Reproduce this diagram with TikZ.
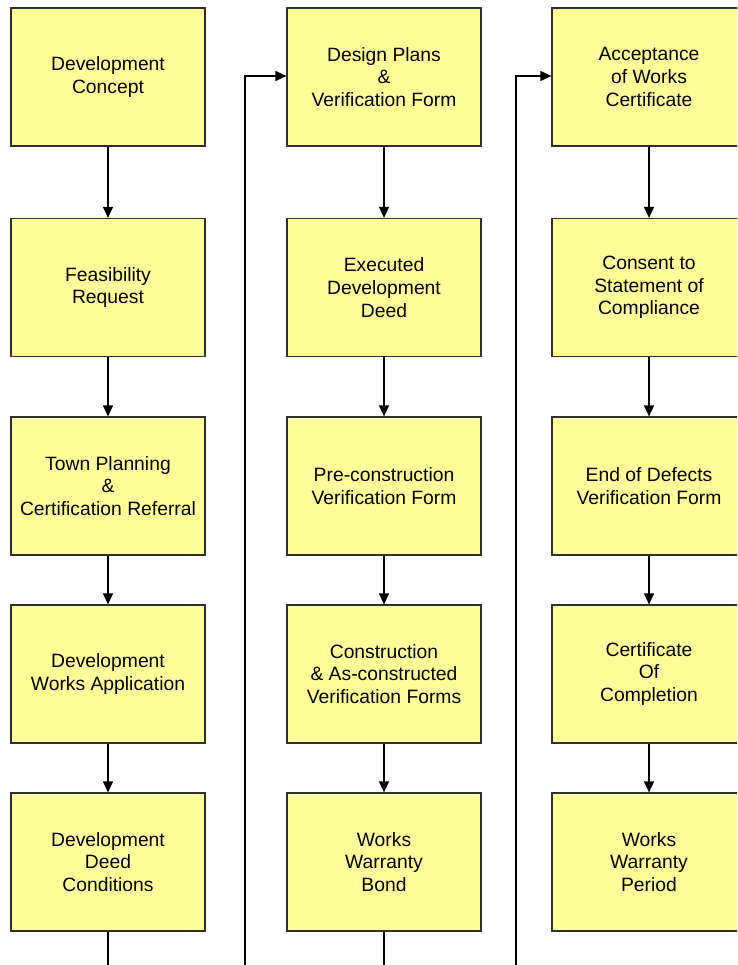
\documentclass[tikz,border=0pt]{standalone}
\usepackage{fontspec}
\setmainfont{Liberation Sans}
\usetikzlibrary{arrows.meta}
\definecolor{boxfill}{HTML}{FFFF99}
\definecolor{boxline}{HTML}{303030}
\tikzset{
  stepbox/.style={draw=boxline, line width=1.2pt, fill=boxfill, minimum width=194pt, minimum height=138pt, inner sep=0pt, align=center, font=\fontsize{19.3}{22.7}\selectfont},
  flow/.style={draw=black, line width=1.5pt, -{Triangle[length=11pt,width=10pt]}},
  plainline/.style={draw=black, line width=1.5pt}
}
\begin{document}
\begin{tikzpicture}[x=1pt,y=-1pt]
\useasboundingbox (0,0) rectangle (737,965);
\clip (0,0) rectangle (737,965);
% column 1
\node[stepbox] (a1) at (108,77) {Development\\Concept};
\node[stepbox] (a2) at (108,287.5) {Feasibility\\Request};
\node[stepbox] (a3) at (108,486) {Town Planning\\\&\\Certification Referral};
\node[stepbox] (a4) at (108,674) {Development\\Works Application};
\node[stepbox] (a5) at (108,862) {Development\\Deed\\Conditions};
% column 2
\node[stepbox] (b1) at (384,77) {Design Plans\\\&\\Verification Form};
\node[stepbox] (b2) at (384,287.5) {Executed\\Development\\Deed};
\node[stepbox] (b3) at (384,486) {Pre-construction\\Verification Form};
\node[stepbox] (b4) at (384,674) {Construction\\\& As-constructed\\Verification Forms};
\node[stepbox] (b5) at (384,862) {Works\\Warranty\\Bond};
% column 3
\node[stepbox] (c1) at (649,77) {Acceptance\\of Works\\Certificate};
\node[stepbox] (c2) at (649,287.5) {Consent to\\Statement of\\Compliance};
\node[stepbox] (c3) at (649,486) {End of Defects\\Verification Form};
\node[stepbox] (c4) at (649,674) {Certificate\\Of\\Completion};
\node[stepbox] (c5) at (649,862) {Works\\Warranty\\Period};
% free ends at the bottom edge
\coordinate (e1) at (108,966);
\coordinate (e2) at (245,966);
\coordinate (e3) at (384,966);
\coordinate (e4) at (516,966);
% arrows
\foreach \c in {a,b,c}{
  \draw[flow] (\c1) -- (\c2);
  \draw[flow] (\c2) -- (\c3);
  \draw[flow] (\c3) -- (\c4);
  \draw[flow] (\c4) -- (\c5);
}
\draw[plainline] (a5) -- (e1);
\draw[plainline] (b5) -- (e3);
\draw[flow] (e2) |- ([yshift=1pt]b1.west);
\draw[flow] (e4) |- ([yshift=1pt]c1.west);
\end{tikzpicture}
\end{document}
